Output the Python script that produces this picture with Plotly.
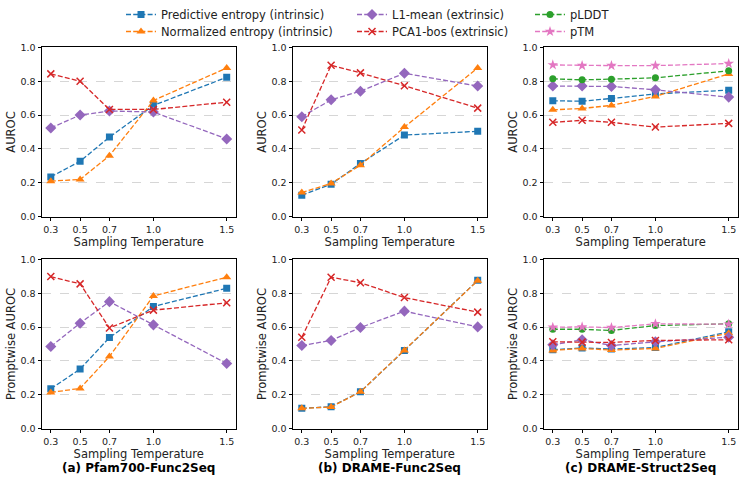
import plotly.graph_objects as go
from plotly.subplots import make_subplots

temps = [0.3, 0.5, 0.7, 1.0, 1.5]
temp_labels = ["0.3", "0.5", "0.7", "1.0", "1.5"]
panel_titles = ["(a) Pfam700-Func2Seq", "(b) DRAME-Func2Seq", "(c) DRAME-Struct2Seq"]
row_ylabels = ["AUROC", "Promptwise AUROC"]

# ---- AUROC (row 1) ----
pfam_auroc_pred = [0.235, 0.327, 0.47, 0.657, 0.823]
pfam_auroc_norm = [0.21, 0.22, 0.36, 0.686, 0.878]
pfam_auroc_l1 = [0.524, 0.60, 0.624, 0.618, 0.459]
pfam_auroc_pca = [0.843, 0.80, 0.633, 0.633, 0.676]

func_auroc_pred = [0.127, 0.192, 0.314, 0.482, 0.504]
func_auroc_norm = [0.143, 0.196, 0.304, 0.529, 0.878]
func_auroc_l1 = [0.59, 0.69, 0.741, 0.847, 0.771]
func_auroc_pca = [0.512, 0.894, 0.849, 0.773, 0.641]

struct_auroc_pred = [0.684, 0.682, 0.698, 0.725, 0.747]
struct_auroc_norm = [0.631, 0.639, 0.657, 0.71, 0.843]
struct_auroc_l1 = [0.771, 0.771, 0.769, 0.749, 0.706]
struct_auroc_pca = [0.557, 0.569, 0.557, 0.529, 0.551]
struct_auroc_plddt = [0.814, 0.808, 0.812, 0.82, 0.861]
struct_auroc_ptm = [0.896, 0.892, 0.892, 0.892, 0.904]

# ---- Promptwise AUROC (row 2) ----
pfam_prompt_pred = [0.236, 0.352, 0.538, 0.721, 0.829]
pfam_prompt_norm = [0.214, 0.238, 0.426, 0.784, 0.894]
pfam_prompt_l1 = [0.485, 0.623, 0.75, 0.613, 0.385]
pfam_prompt_pca = [0.898, 0.855, 0.595, 0.70, 0.743]

func_prompt_pred = [0.12, 0.13, 0.218, 0.462, 0.876]
func_prompt_norm = [0.12, 0.128, 0.218, 0.462, 0.874]
func_prompt_l1 = [0.491, 0.521, 0.597, 0.694, 0.601]
func_prompt_pca = [0.54, 0.894, 0.862, 0.774, 0.688]

struct_prompt_pred = [0.466, 0.477, 0.47, 0.479, 0.572]
struct_prompt_norm = [0.462, 0.474, 0.464, 0.474, 0.564]
struct_prompt_l1 = [0.495, 0.525, 0.491, 0.513, 0.54]
struct_prompt_pca = [0.513, 0.511, 0.509, 0.521, 0.525]
struct_prompt_plddt = [0.587, 0.587, 0.58, 0.609, 0.619]
struct_prompt_ptm = [0.599, 0.601, 0.597, 0.619, 0.617]

series_style = {
    "Predictive entropy (intrinsic)": dict(color="#1f77b4", symbol="square", size=7, legend="legend"),
    "Normalized entropy (intrinsic)": dict(color="#ff7f0e", symbol="triangle-up", size=8, legend="legend2"),
    "L1-mean (extrinsic)": dict(color="#9467bd", symbol="diamond", size=8.5, legend="legend3"),
    "PCA1-bos (extrinsic)": dict(color="#d62728", symbol="x-thin", size=7, legend="legend4"),
    "pLDDT": dict(color="#2ca02c", symbol="circle", size=7, legend="legend5"),
    "pTM": dict(color="#e377c2", symbol="star", size=8, legend="legend6"),
}

panels = {
    (1, 1): {"Predictive entropy (intrinsic)": pfam_auroc_pred, "Normalized entropy (intrinsic)": pfam_auroc_norm,
             "L1-mean (extrinsic)": pfam_auroc_l1, "PCA1-bos (extrinsic)": pfam_auroc_pca},
    (1, 2): {"Predictive entropy (intrinsic)": func_auroc_pred, "Normalized entropy (intrinsic)": func_auroc_norm,
             "L1-mean (extrinsic)": func_auroc_l1, "PCA1-bos (extrinsic)": func_auroc_pca},
    (1, 3): {"Predictive entropy (intrinsic)": struct_auroc_pred, "Normalized entropy (intrinsic)": struct_auroc_norm,
             "L1-mean (extrinsic)": struct_auroc_l1, "PCA1-bos (extrinsic)": struct_auroc_pca,
             "pLDDT": struct_auroc_plddt, "pTM": struct_auroc_ptm},
    (2, 1): {"Predictive entropy (intrinsic)": pfam_prompt_pred, "Normalized entropy (intrinsic)": pfam_prompt_norm,
             "L1-mean (extrinsic)": pfam_prompt_l1, "PCA1-bos (extrinsic)": pfam_prompt_pca},
    (2, 2): {"Predictive entropy (intrinsic)": func_prompt_pred, "Normalized entropy (intrinsic)": func_prompt_norm,
             "L1-mean (extrinsic)": func_prompt_l1, "PCA1-bos (extrinsic)": func_prompt_pca},
    (2, 3): {"Predictive entropy (intrinsic)": struct_prompt_pred, "Normalized entropy (intrinsic)": struct_prompt_norm,
             "L1-mean (extrinsic)": struct_prompt_l1, "PCA1-bos (extrinsic)": struct_prompt_pca,
             "pLDDT": struct_prompt_plddt, "pTM": struct_prompt_ptm},
}

W, H = 745, 485
FONT = "DejaVu Sans"

fig = make_subplots(rows=2, cols=3)

shown = set()
for (r, c), data in panels.items():
    for name, vals in data.items():
        st = series_style[name]
        show = name not in shown
        shown.add(name)
        is_x = st["symbol"] == "x-thin"
        fig.add_trace(go.Scatter(
            x=temps, y=vals, name=name, mode="lines+markers",
            line=dict(color=st["color"], width=1.3, dash="5px,2.2px"),
            marker=dict(symbol=st["symbol"], size=st["size"], color=st["color"],
                        line=dict(color=st["color"], width=1.5 if is_x else 0)),
            showlegend=show, legend=st["legend"],
        ), row=r, col=c)

# domains in pixels
col_px = [(42, 235.5), (293, 486.5), (544, 737.5)]
row_px = [(47.3, 216.7), (259.3, 428.7)]

for r in range(2):
    for c in range(3):
        idx = r * 3 + c + 1
        xa = "xaxis" if idx == 1 else f"xaxis{idx}"
        ya = "yaxis" if idx == 1 else f"yaxis{idx}"
        x0, x1 = col_px[c]
        y0, y1 = row_px[r]
        fig.layout[xa].update(
            domain=[x0 / W, x1 / W], range=[0.24, 1.56], automargin=False,
            tickvals=temps, ticktext=temp_labels,
            showline=True, mirror=True, linecolor="black", linewidth=1,
            ticks="outside", ticklen=3.5, tickwidth=1, tickcolor="black",
            showgrid=False, zeroline=False,
            tickfont=dict(size=9.5, color="#222", family=FONT),
            title=dict(text="Sampling Temperature", standoff=0,
                       font=dict(size=11.5, color="#222", family=FONT)),
        )
        fig.layout[ya].update(
            domain=[1 - y1 / H, 1 - y0 / H], range=[0, 1], automargin=False,
            tickvals=[0, 0.2, 0.4, 0.6, 0.8, 1.0],
            ticktext=["0.0", "0.2", "0.4", "0.6", "0.8", "1.0"],
            showline=True, mirror=True, linecolor="black", linewidth=1,
            ticks="outside", ticklen=3.5, tickwidth=1, tickcolor="black",
            showgrid=True, gridcolor="#d6d6d6", griddash="dash", gridwidth=1,
            zeroline=False,
            tickfont=dict(size=9.5, color="#222", family=FONT),
            title=dict(text=row_ylabels[r], standoff=2,
                       font=dict(size=11.5, color="#222", family=FONT)),
        )

for c, t in enumerate(panel_titles):
    x0, x1 = col_px[c]
    fig.add_annotation(text=f"<b>{t}</b>", x=(x0 + x1) / 2 / W, y=1 - 468 / H,
                       xref="paper", yref="paper", showarrow=False,
                       font=dict(size=12, color="black", family=FONT),
                       xanchor="center", yanchor="middle")

leg_common = dict(orientation="v", xanchor="left", yanchor="top",
                  bgcolor="rgba(0,0,0,0)", font=dict(size=11.5, color="#222", family=FONT),
                  itemwidth=30, tracegroupgap=0)
row1_y = 1.0
row2_y = 1 - 17 / H
fig.update_layout(
    width=W, height=H, margin=dict(l=0, r=0, t=0, b=0),
    paper_bgcolor="white", plot_bgcolor="white",
    font=dict(family=FONT),
    legend=dict(x=121 / W, y=row1_y, **leg_common),
    legend2=dict(x=121 / W, y=row2_y, **leg_common),
    legend3=dict(x=352 / W, y=row1_y, **leg_common),
    legend4=dict(x=352 / W, y=row2_y, **leg_common),
    legend5=dict(x=530 / W, y=row1_y, **leg_common),
    legend6=dict(x=530 / W, y=row2_y, **leg_common),
)

fig.write_html("out.html")
